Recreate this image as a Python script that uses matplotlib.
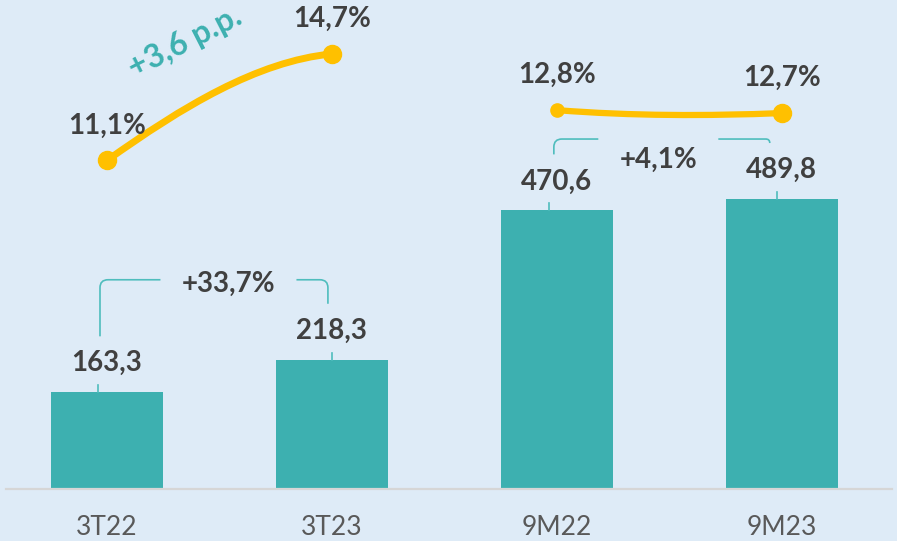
import matplotlib
matplotlib.use("Agg")
import matplotlib.pyplot as plt
import numpy as np
from matplotlib.path import Path
from matplotlib.patches import PathPatch
from matplotlib.transforms import IdentityTransform

# ---------------------------------------------------------------------------
# Data
# ---------------------------------------------------------------------------
categories = ["3T22", "3T23", "9M22", "9M23"]
revenue = [163.3, 218.3, 470.6, 489.8]
margin = [11.1, 14.7, 12.8, 12.7]
margin_pairs = [(0, 1), (2, 3)]
growth_pairs = [(0, 1), (2, 3)]
growth_labels = ["+33,7%", "+4,1%"]
margin_delta_label = "+3,6 p.p."

# ---------------------------------------------------------------------------
# Style
# ---------------------------------------------------------------------------
BG = "#DEEBF7"
TEAL = "#3DB0B0"
GOLD = "#FFC000"
DARK = "#404040"
GREY = "#595959"
plt.rcParams["font.family"] = ["Lato", "DejaVu Sans"]

W, H = 897, 541


def fmt(v, suffix=""):
    return f"{v:.1f}".replace(".", ",") + suffix


fig = plt.figure(figsize=(W / 100, H / 100), dpi=100, facecolor=BG)
ax = fig.add_axes([6 / W, 52 / H, 886 / W, 489 / H])
ax.set_facecolor(BG)

x = np.arange(len(categories))
ax.bar(x, revenue, width=0.5, color=TEAL, zorder=2)
ax.set_xlim(-0.449, 3.49)
ax.set_ylim(0, 826)
ax.set_xticks(x, categories)
ax.tick_params(axis="x", length=0, pad=19, labelsize=19, labelcolor=GREY)
ax.set_yticks([])
for s in ("left", "right", "top"):
    ax.spines[s].set_visible(False)
ax.spines["bottom"].set_color("#D6D6D6")
ax.spines["bottom"].set_linewidth(1.6)

# bar value labels + short leader lines
leader_dx = [-9, 0, -8, -5]
for xi, v, dx in zip(x, revenue, leader_dx):
    ax.annotate(fmt(v), (xi, v), xytext=(0, 21), textcoords="offset pixels",
                ha="center", va="baseline", fontsize=20, fontweight="bold", color=DARK)
    px, py = ax.transData.transform((xi, v))
    fig.add_artist(plt.Line2D([px + dx, px + dx], [py, py + 7], transform=IdentityTransform(),
                              color="#4FBDBD", lw=1.2))

# ---------------------------------------------------------------------------
# Margin line (secondary axis)
# ---------------------------------------------------------------------------
ax2 = ax.twinx()
ax2.set_ylim(0, 16.52)
ax2.axis("off")

# bezier control (fraction of rise at 1/3, fraction at 2/3, extra sag)
ctrl = [(0.5, 0.93, 0.0), (0.5, 0.5, -0.15)]
line_w = [5, 4.5]
marker_sz = [(13, 13), (9.5, 13)]
for (i, j), (a, b, s), lw, (m0, m1) in zip(margin_pairs, ctrl, line_w, marker_sz):
    y0, y1 = margin[i], margin[j]
    dy = y1 - y0
    dx = j - i
    verts = [(i, y0), (i + dx / 3, y0 + a * dy + s), (i + 2 * dx / 3, y0 + b * dy + s), (j, y1)]
    codes = [Path.MOVETO, Path.CURVE4, Path.CURVE4, Path.CURVE4]
    ax2.add_patch(PathPatch(Path(verts, codes), fill=False, ec=GOLD, lw=lw,
                            capstyle="round", zorder=3))
    ax2.plot([i], [y0], "o", ms=m0, color=GOLD, zorder=4)
    ax2.plot([j], [y1], "o", ms=m1, color=GOLD, zorder=4)

for xi, v in zip(x, margin):
    ax2.annotate(fmt(v, "%"), (xi, v), xytext=(0, 27), textcoords="offset pixels",
                 ha="center", va="baseline", fontsize=20, fontweight="bold", color=DARK)

i, j = margin_pairs[0]
ax2.annotate(margin_delta_label, ((i + j) / 2, (margin[i] + margin[j]) / 2),
             xytext=(-34, 65), textcoords="offset pixels", ha="center", va="center",
             rotation=27, rotation_mode="anchor", fontsize=23, fontweight="bold", color=TEAL)

# ---------------------------------------------------------------------------
# Growth brackets
# ---------------------------------------------------------------------------
# rise above taller bar, label dx, label dy, half gap, left leg dx, right leg dx
bracket_style = [(80, 9, -12, 68, -7, -4), (60, -11, -29, 60, -3, -12)]
for (i, j), label, (rise, ldx, ldy, hg, dxl, dxr) in zip(growth_pairs, growth_labels, bracket_style):
    xi, yi = ax.transData.transform((i, revenue[i]))
    xj, yj = ax.transData.transform((j, revenue[j]))
    xl, xr = xi + dxl, xj + dxr
    bl, br = yi + 56, yj + 56
    top = max(yi, yj) + rise
    cx = (xi + xj) / 2 + ldx
    rl = min(8, top - bl)
    rr = min(8, top - br)
    verts = [(xl, bl), (xl, top - rl), (xl, top), (xl + rl, top), (cx - hg, top),
             (cx + hg, top), (xr - rr, top), (xr, top), (xr, top - rr), (xr, br)]
    codes = [Path.MOVETO, Path.LINETO, Path.CURVE3, Path.CURVE3, Path.LINETO,
             Path.MOVETO, Path.LINETO, Path.CURVE3, Path.CURVE3, Path.LINETO]
    fig.add_artist(PathPatch(Path(verts, codes), transform=IdentityTransform(),
                             fill=False, ec="#4FBDBD", lw=1.2))
    ax.annotate(label, xy=(cx, top + ldy), xycoords="figure pixels", ha="center",
                va="baseline", fontsize=20, fontweight="bold", color=DARK)

fig.savefig("out.png", dpi=100, facecolor=BG)
